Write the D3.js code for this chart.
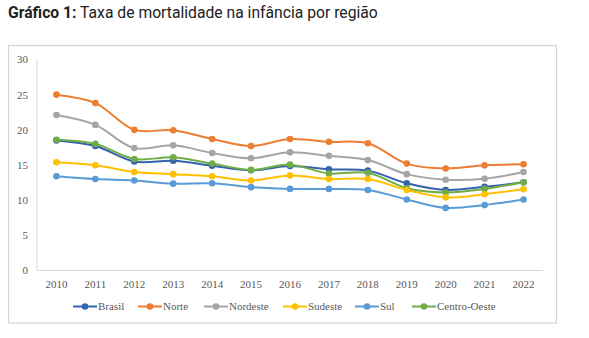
<!DOCTYPE html>
<html><head><meta charset="utf-8">
<script src="https://cdn.jsdelivr.net/npm/d3@7"></script>
<style>
html,body{margin:0;padding:0;background:#fff;}
svg{display:block;}
</style></head>
<body>
<svg id="chart" width="589" height="338"></svg>
<script>
const years = ["2010","2011","2012","2013","2014","2015","2016","2017","2018","2019","2020","2021","2022"];
const seriesNames = ["Brasil","Norte","Nordeste","Sudeste","Sul","Centro-Oeste"];
const seriesColors = ["#3562AE","#ED7D31","#A5A5A5","#FFC000","#5B9BD5","#70AD47"];
const brasil = [18.5,17.7,15.5,15.6,14.9,14.25,14.85,14.4,14.2,12.4,11.45,11.9,12.55];
const norte = [25.0,23.8,20.0,19.95,18.7,17.7,18.7,18.3,18.1,15.2,14.5,14.95,15.1];
const nordeste = [22.1,20.7,17.4,17.8,16.7,15.95,16.8,16.3,15.7,13.7,12.9,13.05,14.0];
const sudeste = [15.4,14.95,14.0,13.7,13.4,12.8,13.5,13.0,13.0,11.45,10.4,10.85,11.55];
const sul = [13.4,13.0,12.8,12.35,12.4,11.85,11.6,11.6,11.45,10.1,8.9,9.3,10.1];
const centroOeste = [18.6,18.0,15.85,16.1,15.2,14.3,15.05,13.8,13.9,11.7,11.1,11.6,12.55];
const yTicks = [0,5,10,15,20,25,30];

const seriesValues = [brasil,norte,nordeste,sudeste,sul,centroOeste];
const drawOrder = [1,2,0,5,3,4];

const svg = d3.select("#chart");

// title
const title = svg.append("text").attr("x",8).attr("y",18)
  .attr("font-family","Roboto, 'Open Sans', sans-serif").attr("font-size",15.7).attr("fill","#222");
title.append("tspan").attr("font-weight","bold").text("Gráfico 1:");
title.append("tspan").text(" Taxa de mortalidade na infância por região");

// frame
svg.append("rect").attr("x",8.5).attr("y",45.5).attr("width",548).attr("height",277.5)
  .attr("fill","#fff").attr("stroke","#d4d4d4").attr("stroke-width",1.2);

const x = d3.scalePoint().domain(years).range([37,543]).padding(0.5);
const y = d3.scaleLinear().domain([0,30]).range([270.5,59.5]);

// axes lines
svg.append("line").attr("x1",37).attr("x2",37).attr("y1",y(30)).attr("y2",y(0))
  .attr("stroke","#d9d9d9").attr("stroke-width",1);
svg.append("line").attr("x1",37).attr("x2",543).attr("y1",y(0)).attr("y2",y(0))
  .attr("stroke","#d9d9d9").attr("stroke-width",1);

const serif = "'Liberation Serif','Times New Roman',serif";
svg.append("g").selectAll("text").data(yTicks).join("text")
  .attr("x",28).attr("y",d=>y(d)).attr("dy","0.35em").attr("text-anchor","end")
  .attr("font-family",serif).attr("font-size",11).attr("fill","#595959").text(d=>d);

svg.append("g").selectAll("text").data(years).join("text")
  .attr("x",d=>x(d)).attr("y",288).attr("text-anchor","middle")
  .attr("font-family",serif).attr("font-size",11).attr("fill","#595959").text(d=>d);

const line = d3.line().x((d,i)=>x(years[i])).y(d=>y(d)).curve(d3.curveCatmullRom.alpha(0.5));

drawOrder.forEach(si=>{
  const g = svg.append("g");
  g.append("path").attr("d",line(seriesValues[si])).attr("fill","none")
    .attr("stroke",seriesColors[si]).attr("stroke-width",2);
  g.selectAll("circle").data(seriesValues[si]).join("circle")
    .attr("cx",(d,i)=>x(years[i])).attr("cy",d=>y(d)).attr("r",3.3)
    .attr("fill",seriesColors[si]);
});

// legend
const legendX = [73,138,204,283,355,412];
const leg = svg.append("g");
seriesNames.forEach((n,i)=>{
  const lx = legendX[i], ly = 306.5;
  leg.append("line").attr("x1",lx).attr("x2",lx+24).attr("y1",ly).attr("y2",ly)
    .attr("stroke",seriesColors[i]).attr("stroke-width",2);
  leg.append("circle").attr("cx",lx+12).attr("cy",ly).attr("r",3.3).attr("fill",seriesColors[i]);
  leg.append("text").attr("x",lx+25).attr("y",ly).attr("dy","0.35em")
    .attr("font-family",serif).attr("font-size",11).attr("fill","#595959").text(n);
});
</script>
</body></html>
